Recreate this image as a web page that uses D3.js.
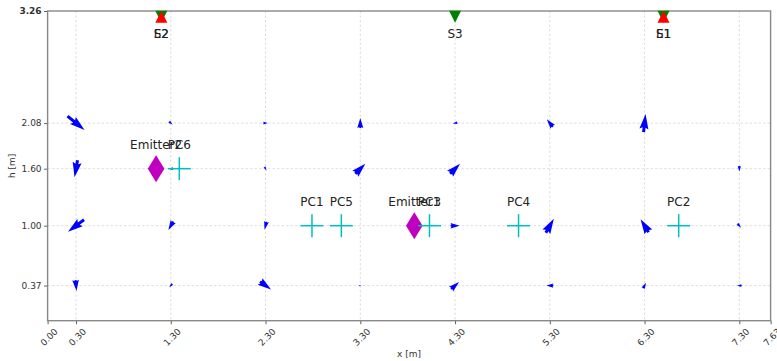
<!DOCTYPE html>
<html>
<head>
<meta charset="utf-8">
<script src="https://cdn.jsdelivr.net/npm/d3@7"></script>
<style>
  body { margin: 0; background: #fff; }
  text { font-family: "DejaVu Sans", sans-serif; }
</style>
</head>
<body>
<svg id="chart" width="777" height="361"></svg>
<script>
// Axis ticks
const xTicks = [0.00, 0.30, 1.30, 2.30, 3.30, 4.30, 5.30, 6.30, 7.30, 7.63];
const yTicks = [0.37, 1.00, 1.60, 2.08, 3.26];

// Measurement grid for the flow field
const gridX = [0.30, 1.30, 2.30, 3.30, 4.30, 5.30, 6.30, 7.30];
const gridY = [0.37, 1.00, 1.60, 2.08];

// Flow components, one row per gridY entry, one column per gridX entry
const flowU = [
  [ 0.1, -0.3,  1.1, 0.2,  0.8, -0.7,  0.3, -0.45],
  [-1.6, -0.5, -0.2, 0.0,  0.9,  0.8, -0.8,  0.35],
  [-0.3, -0.45, 0.2, 1.0,  1.0,  0.0,  0.0,  0.0],
  [ 1.7,  0.35, 0.45, 0.0, -0.45, -0.6, 0.2,  0.0]
];
const flowV = [
  [-1.1, -0.35, -0.8, 0.0,  0.7,  0.0,  0.55, 0.0],
  [-1.2, -0.85, -0.8, 0.0,  0.0,  1.4,  1.3, -0.4],
  [-1.7,  0.0, -0.35, 1.0,  1.0,  0.0,  0.0, -0.55],
  [-1.4, -0.3,  0.0, 1.0, -0.1,  0.75, 1.8,  0.0]
];

// Sensors (S) and exhausts (E) mounted near the ceiling
const sensorNames = ["S1", "S2", "S3"];
const sensorX     = [6.50, 1.20, 4.30];
const sensorH     = [3.20, 3.20, 3.20];
const exhaustNames = ["E1", "E2"];
const exhaustX     = [6.50, 1.20];
const exhaustH     = [3.20, 3.20];

// Emitters
const emitterNames = ["Emitter1", "Emitter2"];
const emitterX     = [3.87, 1.145];
const emitterH     = [1.00, 1.60];

// Particle counters
const pcNames = ["PC1", "PC2", "PC3", "PC4", "PC5", "PC6"];
const pcX     = [2.79, 6.66, 4.03, 4.97, 3.10, 1.39];
const pcH     = [1.00, 1.00, 1.00, 1.00, 1.00, 1.60];

const svg = d3.select("#chart");
const pL = 47.6, pR = 770.6, pT = 11, pB = 320.7;

const x = d3.scaleLinear().domain([0, 7.63]).range([pL, pR]);
const y = d3.scaleLinear().domain([0, 3.26]).range([pB, pT]);

// Grid
const grid = svg.append("g")
  .attr("stroke", "#d6d6d6").attr("stroke-width", 0.8).attr("stroke-dasharray", "2.5,2");
grid.selectAll("line.gx").data(xTicks.filter(d => d > 0 && d < 7.63)).join("line")
  .attr("class", "gx")
  .attr("x1", d => x(d)).attr("x2", d => x(d)).attr("y1", pT).attr("y2", pB);
grid.selectAll("line.gy").data(yTicks.filter(d => d < 3.26)).join("line")
  .attr("class", "gy")
  .attr("x1", pL).attr("x2", pR).attr("y1", d => y(d)).attr("y2", d => y(d));

// Axes
const fmt = d3.format(".2f");
const xAxis = svg.append("g").attr("transform", `translate(0,${pB})`)
  .call(d3.axisBottom(x).tickValues(xTicks).tickFormat(fmt).tickSize(3.5).tickSizeOuter(0));
xAxis.select(".domain").remove();
xAxis.selectAll(".tick line").attr("stroke", "#333").attr("stroke-width", 0.8);
xAxis.selectAll(".tick text")
  .attr("font-size", 9).attr("fill", "#333")
  .attr("text-anchor", "middle").attr("dominant-baseline", "central")
  .attr("x", 0).attr("y", 0).attr("dy", null)
  .attr("transform", "translate(1,16.5) rotate(-45)");

const yAxis = svg.append("g").attr("transform", `translate(${pL},0)`)
  .call(d3.axisLeft(y).tickValues(yTicks).tickFormat(fmt).tickSize(3.5).tickSizeOuter(0));
yAxis.select(".domain").remove();
yAxis.selectAll(".tick line").attr("stroke", "#333").attr("stroke-width", 0.8);
yAxis.selectAll(".tick text")
  .attr("font-size", 9).attr("fill", "#333").attr("x", -6)
  .attr("font-weight", d => d === 3.26 ? "bold" : null);

// Frame
svg.append("rect").attr("x", pL).attr("y", pT)
  .attr("width", pR - pL).attr("height", pB - pT)
  .attr("fill", "none").attr("stroke", "#888").attr("stroke-width", 1.4);

svg.append("text").attr("x", (pL + pR) / 2).attr("y", 354)
  .attr("text-anchor", "middle").attr("dominant-baseline", "central")
  .attr("font-size", 9).attr("fill", "#333").text("x [m]");
svg.append("text")
  .attr("transform", `translate(12,${(pT + pB) / 2}) rotate(-90)`)
  .attr("text-anchor", "middle").attr("dominant-baseline", "central")
  .attr("font-size", 9).attr("fill", "#333").text("h [m]");

// Flow arrows (pivot at the grid point)
const arrowScale = 10;      // px per flow unit
const shaftW = 3.0, headW = 3 * shaftW, headL = 5 * shaftW, headAx = 4.5 * shaftW;
function arrowPath(L) {
  let s = 1, len = L;
  if (L < headL) { s = L / headL; len = headL; }
  const pts = [
    [0, -shaftW / 2], [len - headAx, -shaftW / 2], [len - headL, -headW / 2],
    [len, 0], [len - headL, headW / 2], [len - headAx, shaftW / 2], [0, shaftW / 2]
  ].map(([a, b]) => [a * s - L / 2, b * s]);
  return "M" + pts.map(p => p.join(",")).join("L") + "Z";
}
const arrows = [];
gridY.forEach((h, i) => gridX.forEach((gx, j) => {
  const u = flowU[i][j], v = flowV[i][j];
  const L = Math.hypot(u, v) * arrowScale;
  if (L > 0) arrows.push({ gx, h, L, ang: Math.atan2(-v, u) * 180 / Math.PI });
}));
svg.append("g").selectAll("path").data(arrows).join("path")
  .attr("d", d => arrowPath(d.L))
  .attr("transform", d => `translate(${x(d.gx)},${y(d.h)}) rotate(${d.ang})`)
  .attr("fill", "#0000ff");

// Sensors: downward green triangles
const tri = 6;
svg.append("g").selectAll("path").data(sensorX).join("path")
  .attr("d", (d, i) => {
    const cx = x(d), cy = y(sensorH[i]);
    return `M${cx - tri},${cy - tri}L${cx + tri},${cy - tri}L${cx},${cy + tri}Z`;
  })
  .attr("fill", "#008000");
// Exhausts: upward red triangles
svg.append("g").selectAll("path").data(exhaustX).join("path")
  .attr("d", (d, i) => {
    const cx = x(d), cy = y(exhaustH[i]);
    return `M${cx},${cy - tri}L${cx + tri},${cy + tri}L${cx - tri},${cy + tri}Z`;
  })
  .attr("fill", "#ff0000");

// Emitters: thin magenta diamonds
svg.append("g").selectAll("path").data(emitterX).join("path")
  .attr("d", (d, i) => {
    const cx = x(d), cy = y(emitterH[i]), hh = 13.5, hw = 8.3;
    return `M${cx},${cy - hh}L${cx + hw},${cy}L${cx},${cy + hh}L${cx - hw},${cy}Z`;
  })
  .attr("fill", "#bf00bf");

// Particle counters: cyan plus markers
const pc = svg.append("g").attr("stroke", "#00bfbf").attr("stroke-width", 1.5);
pcX.forEach((d, i) => {
  const cx = x(d), cy = y(pcH[i]), r = 11.5;
  pc.append("line").attr("x1", cx - r).attr("x2", cx + r).attr("y1", cy).attr("y2", cy);
  pc.append("line").attr("x1", cx).attr("x2", cx).attr("y1", cy - r).attr("y2", cy + r);
});

// Labels
const labels = svg.append("g").attr("font-size", 12).attr("fill", "#222")
  .attr("text-anchor", "middle").attr("dominant-baseline", "central");
sensorNames.forEach((n, i) => labels.append("text").attr("x", x(sensorX[i])).attr("y", y(sensorH[i]) + 17.5).text(n));
exhaustNames.forEach((n, i) => labels.append("text").attr("x", x(exhaustX[i])).attr("y", y(exhaustH[i]) + 17.5).text(n));
emitterNames.forEach((n, i) => labels.append("text").attr("x", x(emitterX[i])).attr("y", y(emitterH[i]) - 24).text(n));
pcNames.forEach((n, i) => labels.append("text").attr("x", x(pcX[i])).attr("y", y(pcH[i]) - 24).text(n));
</script>
</body>
</html>
